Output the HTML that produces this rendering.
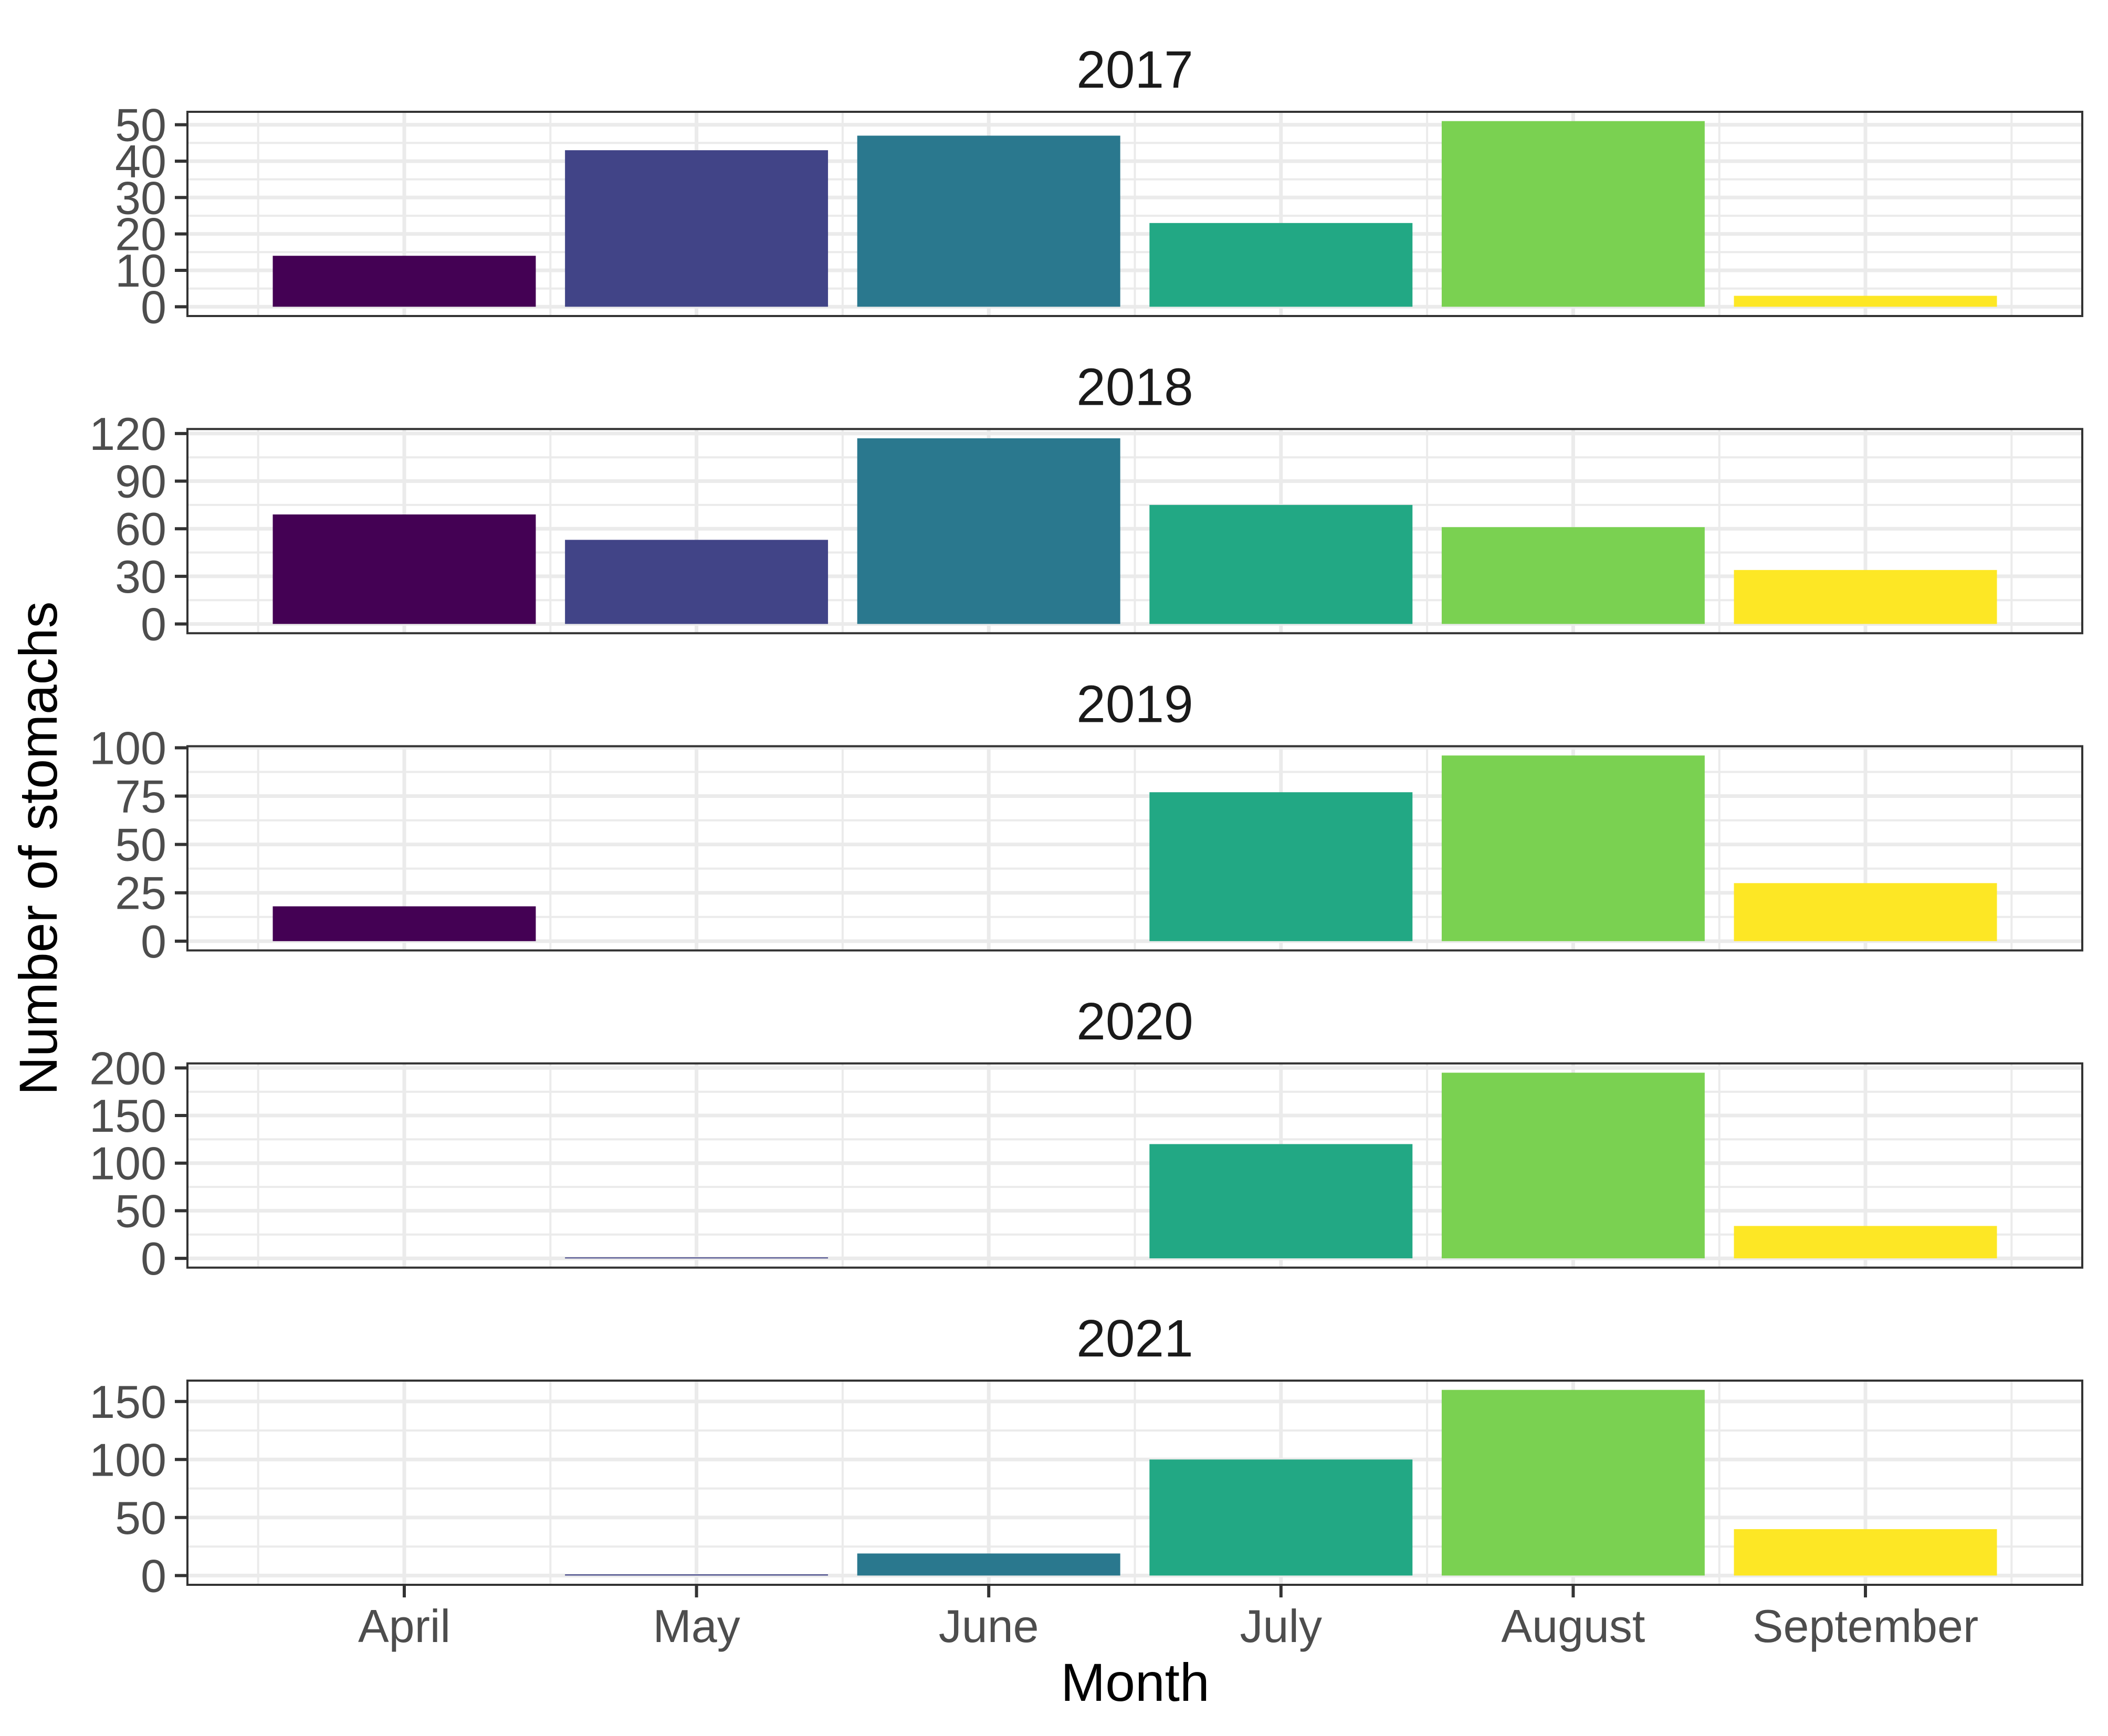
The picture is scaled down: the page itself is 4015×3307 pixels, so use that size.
<!DOCTYPE html>
<html><head><meta charset="utf-8"><style>
html,body{margin:0;padding:0;background:#fff;}
svg{display:block;font-family:"Liberation Sans",Arial,sans-serif;}
</style></head><body>
<svg id="chart" xmlns="http://www.w3.org/2000/svg" width="4015" height="3307" viewBox="0 0 4015 3307">
<rect width="4015" height="3307" fill="#fff"/>
<text x="2162" y="3240" font-size="102" text-anchor="middle" fill="#000">Month</text>
<text transform="translate(108,1616) rotate(-90)" font-size="102" text-anchor="middle" fill="#000">Number of stomachs</text>
</svg>
<script>
const months = ["April","May","June","July","August","September"];
const years = ["2017","2018","2019","2020","2021"];
const values2017 = [14, 43, 47, 23, 51, 3];
const values2018 = [69, 53, 117, 75, 61, 34];
const values2019 = [18, 0, 0, 77, 96, 30];
const values2020 = [0, 1, 0, 120, 195, 34];
const values2021 = [0, 1, 19, 100, 160, 40];
const ticks2017 = [0,10,20,30,40,50];
const ticks2018 = [0,30,60,90,120];
const ticks2019 = [0,25,50,75,100];
const ticks2020 = [0,50,100,150,200];
const ticks2021 = [0,50,100,150];
const colors = ["#440154","#414487","#2A788E","#22A884","#7AD151","#FDE725"];

const allValues = [values2017, values2018, values2019, values2020, values2021];
const allTicks = [ticks2017, ticks2018, ticks2019, ticks2020, ticks2021];

const NS = "http://www.w3.org/2000/svg";
const svg = document.getElementById("chart");
const PL = 357, PR = 3966, PH = 389, TOP0 = 213, STEP = 604.25;
const X0 = 770, UNIT = 556.6;
function xScale(i){ return X0 + i*UNIT; }
function mk(tag, attrs, parent){
  const e = document.createElementNS(NS, tag);
  for (const k in attrs) e.setAttribute(k, attrs[k]);
  (parent||svg).appendChild(e);
  return e;
}

years.forEach((yr, p) => {
  const vals = allValues[p], ticks = allTicks[p];
  const top = TOP0 + p*STEP, bot = top + PH;
  const maxV = Math.max(...vals);
  const lo = -0.05*maxV, hi = 1.05*maxV;
  const yScale = v => bot - (v - lo)/(hi - lo)*PH;
  const g = mk("g", {});
  
  

  const title = mk("text", {x:(PL+PR)/2, y: top-46, "font-size":100, "text-anchor":"middle", fill:"#1a1a1a"}, g);
  title.textContent = yr;
  
  

  // minor y gridlines
  for (let k=0;k<ticks.length-1;k++){
    const m = (ticks[k]+ticks[k+1])/2;
    const y = yScale(m);
    if (y>top && y<bot){
      const l = mk("line",{x1:PL,x2:PR,y1:y,y2:y,stroke:"#ebebeb","stroke-width":4},g);
      
      
    }
  }
  const topMinor = ticks[ticks.length-1] + (ticks[1]-ticks[0])/2;
  if (yScale(topMinor) > top){
    const l = mk("line",{x1:PL,x2:PR,y1:yScale(topMinor),y2:yScale(topMinor),stroke:"#ebebeb","stroke-width":4},g);
    
    
  }
  // minor x gridlines
  for (let k=-1;k<months.length;k++){
    const x = xScale(k+0.5);
    if (x>PL && x<PR){
      const l = mk("line",{x1:x,x2:x,y1:top,y2:bot,stroke:"#ebebeb","stroke-width":4},g);
      
      
    }
  }
  // major gridlines
  ticks.forEach(t => {
    const y = yScale(t);
    const l = mk("line",{x1:PL,x2:PR,y1:y,y2:y,stroke:"#ebebeb","stroke-width":7},g);
    
    
  });
  months.forEach((m,i) => {
    const x = xScale(i);
    const l = mk("line",{x1:x,x2:x,y1:top,y2:bot,stroke:"#ebebeb","stroke-width":7},g);
    
    
  });
  // bars
  vals.forEach((v,i) => {
    if (v<=0) return;
    const y0 = yScale(0), y1 = yScale(v);
    const r = mk("rect",{x:xScale(i)-0.45*UNIT, y:y1, width:0.9*UNIT, height:Math.max(y0-y1,2), fill:colors[i]},g);
    
    
  });
  // border
  const b = mk("rect",{x:PL, y:top, width:PR-PL, height:PH, fill:"none", stroke:"#333333","stroke-width":4},g);
  
  
  // y ticks
  ticks.forEach(t => {
    const y = yScale(t);
    const tk = mk("line",{x1:PL-24,x2:PL,y1:y,y2:y,stroke:"#333333","stroke-width":6},g);
    
    
    const tl = mk("text",{x:PL-40, y:y+31, "font-size":88, "text-anchor":"end", fill:"#4d4d4d"},g);
    tl.textContent = t;
    
    
  });
  // x ticks on bottom panel
  if (p === years.length-1){
    months.forEach((m,i) => {
      const x = xScale(i);
      const tk = mk("line",{x1:x,x2:x,y1:bot,y2:bot+24,stroke:"#333333","stroke-width":6},g);
      
      
      const tl = mk("text",{x:x, y:3128, "font-size":88, "text-anchor":"middle", fill:"#4d4d4d"},g);
      tl.textContent = m;
      
      
    });
  }
});
</script>
</body></html>
